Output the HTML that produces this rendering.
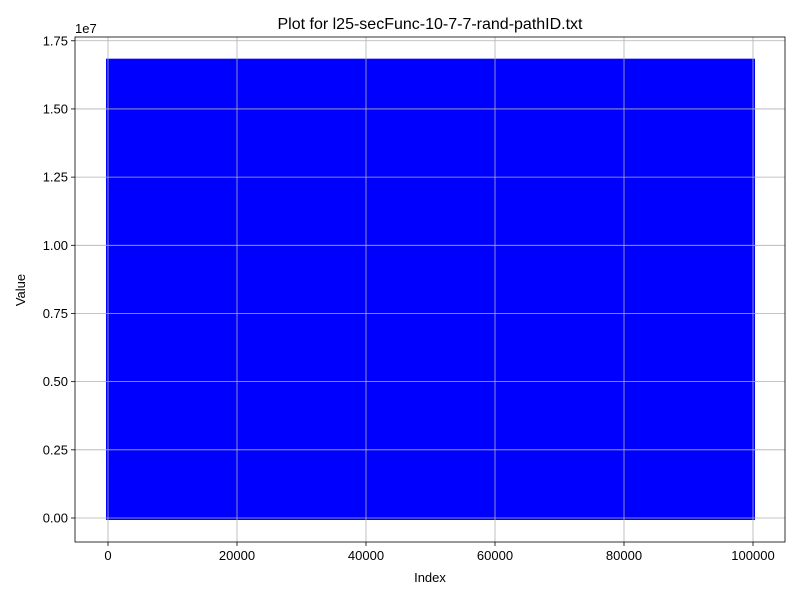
<!DOCTYPE html>
<html><head><meta charset="utf-8"><style>
body{margin:0;background:#fff}
svg{display:block;font-family:"Liberation Sans","DejaVu Sans",sans-serif}
</style></head><body>
<svg width="800" height="600">
<g id="plot"></g>
</svg>
<script>
const xRange=[0,100000];
const yRange=[0,16770000];
const xTicks=[0,20000,40000,60000,80000,100000];
const xTickLabels=["0","20000","40000","60000","80000","100000"];
const yTicks=[0,2500000,5000000,7500000,10000000,12500000,15000000,17500000];
const yTickLabels=["0.00","0.25","0.50","0.75","1.00","1.25","1.50","1.75"];
const L=75,R=785,T=37,B=542;
const X=v=>108+v*(753-108)/100000;
const Y=v=>518-v*272.7/1e7;
const NS="http://www.w3.org/2000/svg";
const g=document.getElementById('plot');
function mk(t,a,txt){const e=document.createElementNS(NS,t);for(const k in a)e.setAttribute(k,a[k]);if(txt!==undefined)e.textContent=txt;g.appendChild(e);return e;}
// scatter mass
const s=mk('rect',{x:X(xRange[0])-2,y:Y(yRange[1])-2,width:X(xRange[1])-X(xRange[0])+4,height:Y(yRange[0])-Y(yRange[1])+4,fill:'#0000ff'});


// grid
xTicks.forEach((v,i)=>{
 const l=mk('line',{x1:X(v),x2:X(v),y1:T,y2:B,stroke:'#b0b0b0','stroke-width':0.8});
 
 
 mk('line',{x1:X(v),x2:X(v),y1:B,y2:B+4,stroke:'#000','stroke-width':0.8});
 const t=mk('text',{x:X(v),y:B+18,'text-anchor':'middle','font-size':13,fill:'#000'},xTickLabels[i]);
 
 
});
yTicks.forEach((v,i)=>{
 const l=mk('line',{x1:L,x2:R,y1:Y(v),y2:Y(v),stroke:'#b0b0b0','stroke-width':0.8});
 
 
 mk('line',{x1:L-4,x2:L,y1:Y(v),y2:Y(v),stroke:'#000','stroke-width':0.8});
 const t=mk('text',{x:L-7,y:Y(v)+4.5,'text-anchor':'end','font-size':13,fill:'#000'},yTickLabels[i]);
 
 
});
const fr=mk('rect',{x:L,y:T,width:R-L,height:B-T,fill:'none',stroke:'#000','stroke-width':0.8});


const ti=mk('text',{x:430,y:29,'text-anchor':'middle','font-size':16,fill:'#000'},'Plot for l25-secFunc-10-7-7-rand-pathID.txt');


const xl=mk('text',{x:430,y:582,'text-anchor':'middle','font-size':13,fill:'#000'},'Index');


const yl=mk('text',{x:25,y:290,'text-anchor':'middle','font-size':13,fill:'#000',transform:'rotate(-90 25 290)'},'Value');


const off=mk('text',{x:75,y:33,'font-size':13,fill:'#000'},'1e7');


</script>
</body></html>
